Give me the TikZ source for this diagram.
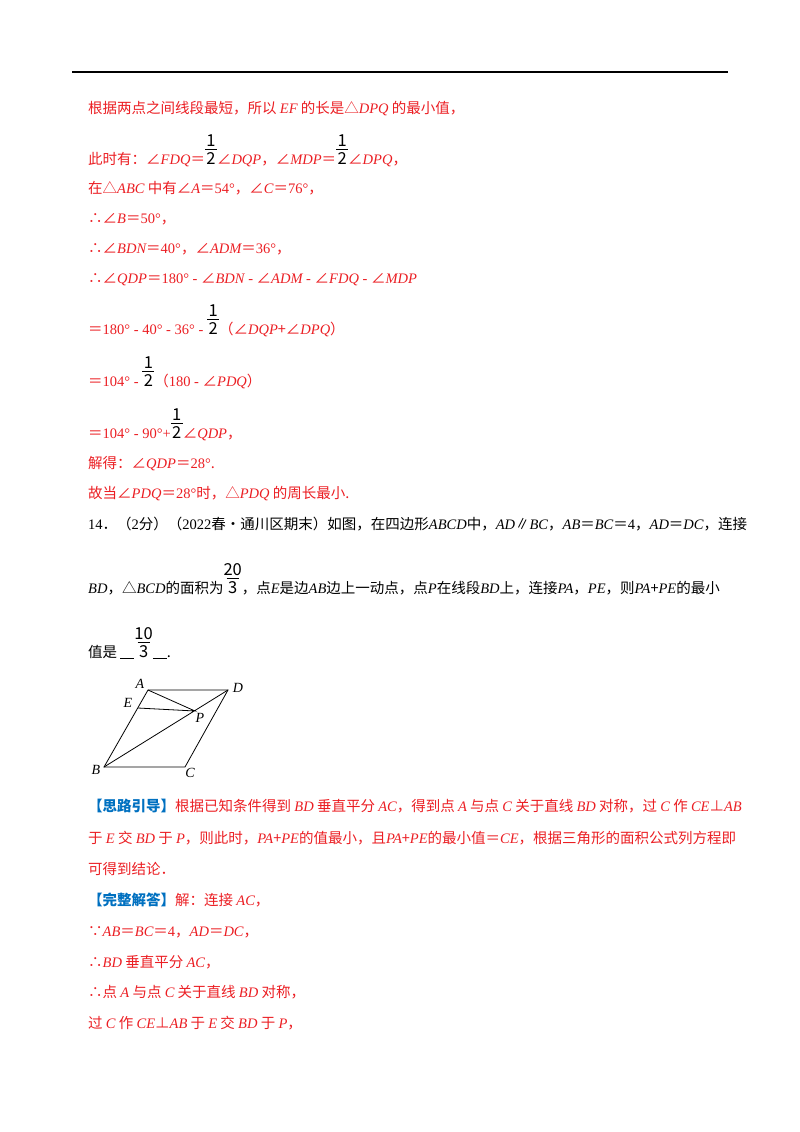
\documentclass[tikz,border=0pt]{standalone}
\usepackage{fontspec}
\setmainfont{Noto Sans CJK SC}
\newfontfamily\tnr{Liberation Serif}
\newcommand\mi[1]{{\tnr\itshape #1}}
\newcommand\nm[1]{{\tnr #1}}
\newcommand\fr[2]{{\color{black}\fontsize{16.5pt}{17pt}\selectfont\shortstack{#1\\[0pt]\rule{12pt}{0.8pt}\\[-1pt]#2}}}
\definecolor{red1}{RGB}{235,30,35}
\definecolor{blue1}{RGB}{0,112,192}
\begin{document}
\begin{tikzpicture}[x=1pt,y=-1pt,
  txt/.style={anchor=base west,inner sep=0pt,font=\fontsize{14.5pt}{16pt}\selectfont},
  r/.style={txt,text=red1},
  k/.style={txt,text=black},
  lab/.style={inner sep=0pt,font=\fontsize{14pt}{16pt}\selectfont\tnr\itshape}]
\useasboundingbox (0,0) rectangle (800,1132);
\draw[line width=1.6pt] (72,72) -- (728,72);
\node[r] (l1) at (88,113) {根据两点之间线段最短，所以 \mi{EF} 的长是△\mi{DPQ} 的最小值，};
\node[r] (l2) at (88,164) {此时有：∠\mi{FDQ}＝\fr12∠\mi{DQP}，∠\mi{MDP}＝\fr12∠\mi{DPQ}，};
\node[r] (l3) at (88,193) {在△\mi{ABC} 中有∠\mi{A}＝\nm{54°}，∠\mi{C}＝\nm{76°}，};
\node[r] (l4) at (88,223) {∴∠\mi{B}＝\nm{50°}，};
\node[r] (l5) at (88,253) {∴∠\mi{BDN}＝\nm{40°}，∠\mi{ADM}＝\nm{36°}，};
\node[r] (l6) at (88,283) {∴∠\mi{QDP}＝\nm{180° - }∠\mi{BDN}\nm{ - }∠\mi{ADM}\nm{ - }∠\mi{FDQ}\nm{ - }∠\mi{MDP}};
\node[r] (l7) at (88,334) {＝\nm{180° - 40° - 36° - }\fr12（∠\mi{DQP}+∠\mi{DPQ}）};
\node[r] (l8) at (88,386) {＝\nm{104° - }\fr12（\nm{180 - }∠\mi{PDQ}）};
\node[r] (l9) at (88,438) {＝\nm{104° - 90°+}\fr12∠\mi{QDP}，};
\node[r] (l10) at (88,468) {解得：∠\mi{QDP}＝\nm{28°}.};
\node[r] (l11) at (88,498) {故当∠\mi{PDQ}＝\nm{28°}时，△\mi{PDQ} 的周长最小.};
\node[k] (q1) at (88,529) {\nm{14}．（\nm{2}分）（\nm{2022}春•通川区期末）如图，在四边形\mi{ABCD}中，\mi{AD}∥\mi{BC}，\mi{AB}＝\mi{BC}＝\nm{4}，\mi{AD}＝\mi{DC}，连接};
\node[k] (q2) at (88,593) {\mi{BD}，△\mi{BCD}的面积为\fr{20}{3}，点\mi{E}是边\mi{AB}边上一动点，点\mi{P}在线段\mi{BD}上，连接\mi{PA}，\mi{PE}，则\mi{PA}+\mi{PE}的最小};
\node[k] (q3) at (88,657) {值是 \underline{\hspace{14pt}}\fr{10}{3}\underline{\hspace{14pt}}.};
% figure
\coordinate (A) at (148,690); \coordinate (D) at (228,690);
\coordinate (B) at (104,767); \coordinate (C) at (185,767);
\coordinate (E) at (138,708); \coordinate (P) at (195,711);
\draw[line width=0.8pt] (A) -- (D) -- (C) -- (B) -- cycle;
\draw[line width=0.8pt] (B) -- (D) (A) -- (P) -- (E);
\node[lab] (la) at (140,684) {A};
\node[lab] (ld) at (238,688) {D};
\node[lab] (le) at (128,703) {E};
\node[lab] (lp) at (200,718) {P};
\node[lab] (lb) at (96,770) {B};
\node[lab] (lc) at (190,773) {C};
\node[r] (s1) at (88,811) {\textcolor{blue1}{\bfseries【思路引导】}根据已知条件得到 \mi{BD} 垂直平分 \mi{AC}，得到点 \mi{A} 与点 \mi{C} 关于直线 \mi{BD} 对称，过 \mi{C} 作 \mi{CE}⊥\mi{AB}};
\node[r] (s2) at (88,843) {于 \mi{E} 交 \mi{BD} 于 \mi{P}，则此时，\mi{PA}+\mi{PE}的值最小，且\mi{PA}+\mi{PE}的最小值＝\mi{CE}，根据三角形的面积公式列方程即};
\node[r] (s3) at (88,874) {可得到结论．};
\node[r] (s4) at (88,905) {\textcolor{blue1}{\bfseries【完整解答】}解：连接 \mi{AC}，};
\node[r] (s5) at (88,936) {∵\mi{AB}＝\mi{BC}＝\nm{4}，\mi{AD}＝\mi{DC}，};
\node[r] (s6) at (88,967) {∴\mi{BD} 垂直平分 \mi{AC}，};
\node[r] (s7) at (88,997) {∴点 \mi{A} 与点 \mi{C} 关于直线 \mi{BD} 对称，};
\node[r] (s8) at (88,1028) {过 \mi{C} 作 \mi{CE}⊥\mi{AB} 于 \mi{E} 交 \mi{BD} 于 \mi{P}，};
\end{tikzpicture}
\end{document}
